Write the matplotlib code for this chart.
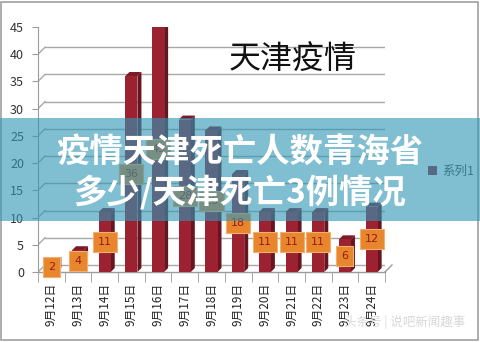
import matplotlib
matplotlib.use("Agg")
import matplotlib.pyplot as plt
from matplotlib.patches import Rectangle, Polygon
from matplotlib.lines import Line2D
import numpy as np

plt.rcParams['font.family'] = ['Noto Sans CJK SC', 'DejaVu Sans']

categories = ["9月12日", "9月13日", "9月14日", "9月15日", "9月16日", "9月17日", "9月18日",
              "9月19日", "9月20日", "9月21日", "9月22日", "9月23日", "9月24日"]
values = [2, 4, 11, 36, 45, 28, 26, 18, 11, 11, 11, 6, 12]
yticks = [0, 5, 10, 15, 20, 25, 30, 35, 40, 45]
series_name = "系列1"
chart_title = "天津疫情"
banner_lines = ["疫情天津死亡人数青海省", "多少/天津死亡3例情况"]
watermark = "头条号 | 说吧新闻趣事"

W, H = 480, 342
fig = plt.figure(figsize=(W / 100, H / 100), dpi=100)
fig.patch.set_facecolor('white')
ax = fig.add_axes([38 / W, 1 - 272 / H, 347 / W, (272 - 27) / H])
ax.set_xlim(-0.5, len(categories) - 0.5)
ax.set_ylim(0, 45)
ax.set_facecolor('none')
for s in ['top', 'right', 'bottom']:
    ax.spines[s].set_visible(False)
ax.spines['left'].set_color('#9a9a9a')

def off(x, y, dx=7, dy=7):
    px = ax.transData.transform((x, y))
    return ax.transData.inverted().transform((px[0] + dx, px[1] + dy))

grid_c = '#a8a8a8'
x0, x1 = -0.5, len(categories) - 0.5
for v in yticks:
    b0 = off(x0, v)
    b1 = off(x1, v)
    ax.add_line(Line2D([x0, b0[0]], [v, b0[1]], color=grid_c, lw=1.0, zorder=1))
    ax.add_line(Line2D([b0[0], b1[0]], [b0[1], b1[1]], color=grid_c, lw=1.0, zorder=1))
# floor front edge and right diagonal
f1 = off(x1, 0)
ax.add_line(Line2D([x0, x1], [0, 0], color='#9a9a9a', lw=1.0, zorder=1, clip_on=False))
ax.add_line(Line2D([x1, f1[0]], [0, f1[1]], color='#9a9a9a', lw=1.0, zorder=1, clip_on=False))

# bars with pseudo-3D faces
bw = 0.45
xs = np.arange(len(categories))
bar_c = '#9c2232'
side_c = '#6a1420'
top_c = '#7d1a28'
ax.bar(xs, values, width=bw, color=bar_c, zorder=3)
for x, v in zip(xs, values):
    xl, xr = x - bw / 2, x + bw / 2
    s1 = off(xr, v, 4, 4)
    s0 = off(xr, 0, 4, 4)
    t0 = off(xl, v, 4, 4)
    ax.add_patch(Polygon([(xr, 0), (xr, v), s1, s0], closed=True, fc=side_c, ec='none', zorder=2.9))
    ax.add_patch(Polygon([(xl, v), (xr, v), s1, t0], closed=True, fc=top_c, ec='none', zorder=2.9))
    ax.text(x, v / 2, str(v), ha='center', va='center', fontsize=8, color='#9a1a10',
            family=['DejaVu Sans'], zorder=5,
            bbox=dict(boxstyle='square,pad=0.45', fc='#e8862e', ec='#f2b070', lw=0.8))

ax.set_yticks(yticks)
ax.tick_params(axis='y', labelsize=9, labelcolor='#333333', color='#9a9a9a', length=4, pad=6)
ax.set_xticks(xs)
ax.set_xticklabels(categories, rotation=90, fontsize=8.5, color='#222222')
ax.tick_params(axis='x', length=0, pad=8)
ax.set_xticks(np.arange(len(categories) + 1) - 0.5, minor=True)
ax.tick_params(axis='x', which='minor', length=7, color='#9a9a9a', direction='out')

# chart title inside plot
fig.text(293 / W, 1 - 60 / H, chart_title, ha='center', va='center', fontsize=23, color='#111111')

# legend
ax.legend([Rectangle((0, 0), 1, 1, fc=bar_c)], [series_name], loc='center left',
          bbox_to_anchor=(417 / W, 1 - 171 / H), bbox_transform=fig.transFigure,
          frameon=False, fontsize=9, handlelength=0.7, handleheight=0.7, handletextpad=0.4,
          labelcolor='#444444')

# watermark
fig.text(405 / W, 1 - 322 / H, watermark, ha='center', va='center', fontsize=9, color='#d8d8d8')

# outer border
fig.add_artist(Rectangle((1 / W, 2 / H), 477 / W, (H - 4) / H, transform=fig.transFigure,
                         fill=False, ec='#a0a0a0', lw=1.2))

# banner overlay
fig.add_artist(Rectangle((0, 1 - 221 / H), 1, 103 / H, transform=fig.transFigure,
                         fc=(50 / 255, 150 / 255, 182 / 255), alpha=0.62, ec='none', zorder=10))
fig.text(0.5, 1 - 152 / H, banner_lines[0], ha='center', va='center', fontsize=24,
         weight='bold', color='white', zorder=11)
fig.text(0.5, 1 - 193 / H, banner_lines[1], ha='center', va='center', fontsize=24,
         weight='bold', color='white', zorder=11)

fig.savefig('out.png', dpi=100)
